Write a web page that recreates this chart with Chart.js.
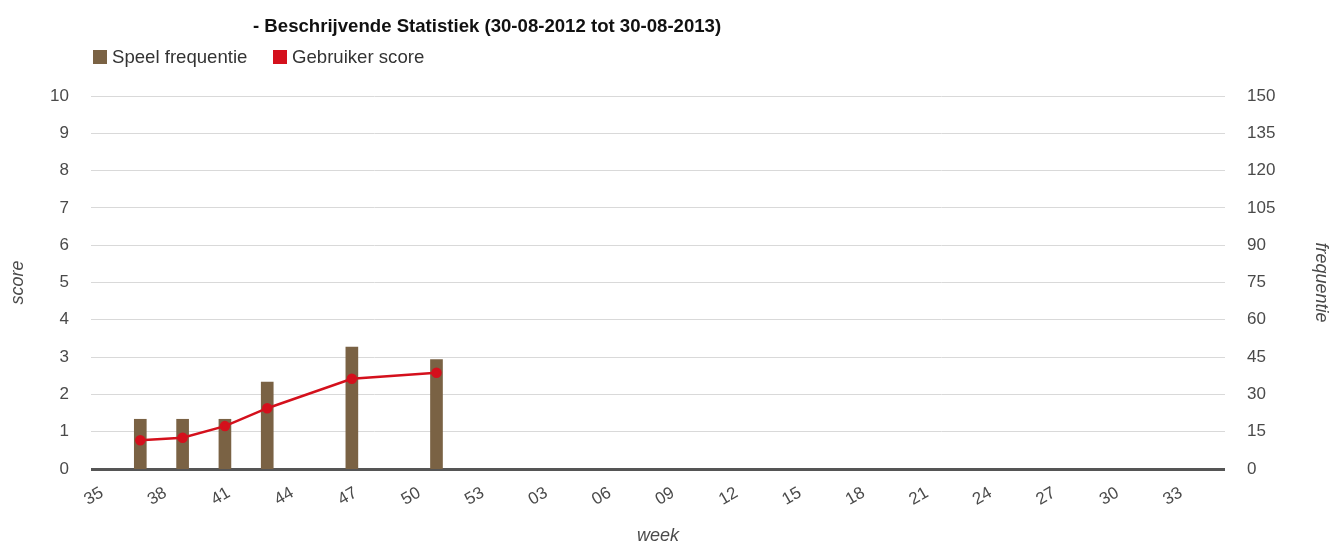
<!DOCTYPE html>
<html>
<head>
<meta charset="utf-8">
<script src="https://cdn.jsdelivr.net/npm/chart.js@4.4.1/dist/chart.umd.min.js"></script>
<style>
  html, body { margin: 0; padding: 0; background: #fff; }
  #wrap { position: relative; width: 1332px; height: 545px; font-family: "Liberation Sans", Arial, sans-serif; }
  #chart { position: absolute; left: 0; top: 0; }
  .title { position: absolute; left: 253px; top: 16px; font-size: 18.6px; line-height: 20px; font-weight: bold; color: #111; white-space: nowrap; }
  .legend-item { position: absolute; top: 47px; font-size: 18.6px; line-height: 20px; color: #333; white-space: nowrap; }
  .legend-item .sw { position: absolute; left: -19px; top: 3px; width: 14px; height: 14px; }
</style>
</head>
<body>
<div id="wrap">
  <canvas id="chart" width="1332" height="545"></canvas>
  <div class="title">- Beschrijvende Statistiek (30-08-2012 tot 30-08-2013)</div>
  <div class="legend-item" style="left:112px"><span class="sw" style="background:#7a6244"></span>Speel frequentie</div>
  <div class="legend-item" style="left:292px"><span class="sw" style="background:#d4101c"></span>Gebruiker score</div>
</div>
<script>
// Every week of the school year, in order
const weeks = ['35','36','37','38','39','40','41','42','43','44','45','46','47','48','49','50','51','52','53',
               '01','02','03','04','05','06','07','08','09','10','11','12','13','14','15','16','17','18','19','20',
               '21','22','23','24','25','26','27','28','29','30','31','32','33','34','35'];
// Labelled weeks on the horizontal axis
const tickLabels = ['35','38','41','44','47','50','53','03','06','09','12','15','18','21','24','27','30','33'];
// Weeks in which something was played
const playWeeks = ['37','39','41','43','47','51'];
// Number of plays per week (right axis)
const playFrequency = [20, 20, 20, 35, 49, 44];
// Average user score per week (left axis)
const userScore = [0.77, 0.84, 1.15, 1.63, 2.42, 2.58];

const scoreTicks = [0,1,2,3,4,5,6,7,8,9,10];
const freqTicks = [0,15,30,45,60,75,90,105,120,135,150];

const FONT = '"Liberation Sans", Arial, sans-serif';
const weekIndex = w => weeks.indexOf(w);

new Chart(document.getElementById('chart'), {
  type: 'bar',
  data: {
    datasets: [
      {
        type: 'line',
        label: 'Gebruiker score',
        data: playWeeks.map((w, i) => ({ x: weekIndex(w), y: userScore[i] })),
        yAxisID: 'yScore',
        borderColor: '#d4101c',
        backgroundColor: '#d4101c',
        borderWidth: 2.5,
        pointRadius: 4,
        pointHoverRadius: 4,
        tension: 0,
        order: 1
      },
      {
        type: 'bar',
        label: 'Speel frequentie',
        data: playWeeks.map((w, i) => ({ x: weekIndex(w), y: playFrequency[i] })),
        yAxisID: 'yFreq',
        backgroundColor: '#7a6244',
        barThickness: 12,
        order: 2
      }
    ]
  },
  options: {
    responsive: false,
    animation: false,
    layout: { padding: { top: 96, left: 0, right: 0, bottom: 0 } },
    plugins: { legend: { display: false }, title: { display: false }, tooltip: { enabled: false } },
    scales: {
      x: {
        type: 'linear',
        offset: false,
        min: -0.33,
        max: 53.27,
        grid: { display: false },
        border: { display: false },
        afterBuildTicks: s => { s.ticks = tickLabels.map(l => ({ value: weekIndex(l) })); },
        afterFit: s => { s.height = 76; },
        ticks: {
          autoSkip: false,
          maxRotation: 30,
          minRotation: 30,
          padding: 6,
          labelOffset: 4,
          color: '#4a4a4a',
          font: { family: FONT, size: 17 },
          callback: v => weeks[v]
        },
        title: {
          display: true,
          text: 'week',
          color: '#4a4a4a',
          font: { family: FONT, size: 18, style: 'italic', lineHeight: 1 },
          padding: { top: 0, bottom: 0 }
        }
      },
      yScore: {
        position: 'left',
        min: 0,
        max: 10,
        afterBuildTicks: s => { s.ticks = scoreTicks.map(v => ({ value: v })); },
        afterFit: s => { s.width = 91; },
        grid: {
          drawTicks: false,
          color: c => (c.tick && c.tick.value === 0) ? '#555' : '#d9d9d9',
          lineWidth: c => (c.tick && c.tick.value === 0) ? 3 : 1
        },
        border: { display: false },
        ticks: { padding: 22, color: '#4a4a4a', font: { family: FONT, size: 17 } },
        title: {
          display: true,
          text: 'score',
          color: '#4a4a4a',
          font: { family: FONT, size: 18, style: 'italic' },
          padding: { top: 7, bottom: 0 }
        }
      },
      yFreq: {
        position: 'right',
        min: 0,
        max: 150,
        afterBuildTicks: s => { s.ticks = freqTicks.map(v => ({ value: v })); },
        afterFit: s => { s.width = 107; },
        grid: { display: false, drawTicks: false },
        border: { display: false },
        ticks: { padding: 22, color: '#4a4a4a', font: { family: FONT, size: 17 } },
        title: {
          display: true,
          text: 'frequentie',
          color: '#4a4a4a',
          font: { family: FONT, size: 18, style: 'italic' },
          padding: { top: 0, bottom: 0 }
        }
      }
    }
  }
});
</script>
</body>
</html>
